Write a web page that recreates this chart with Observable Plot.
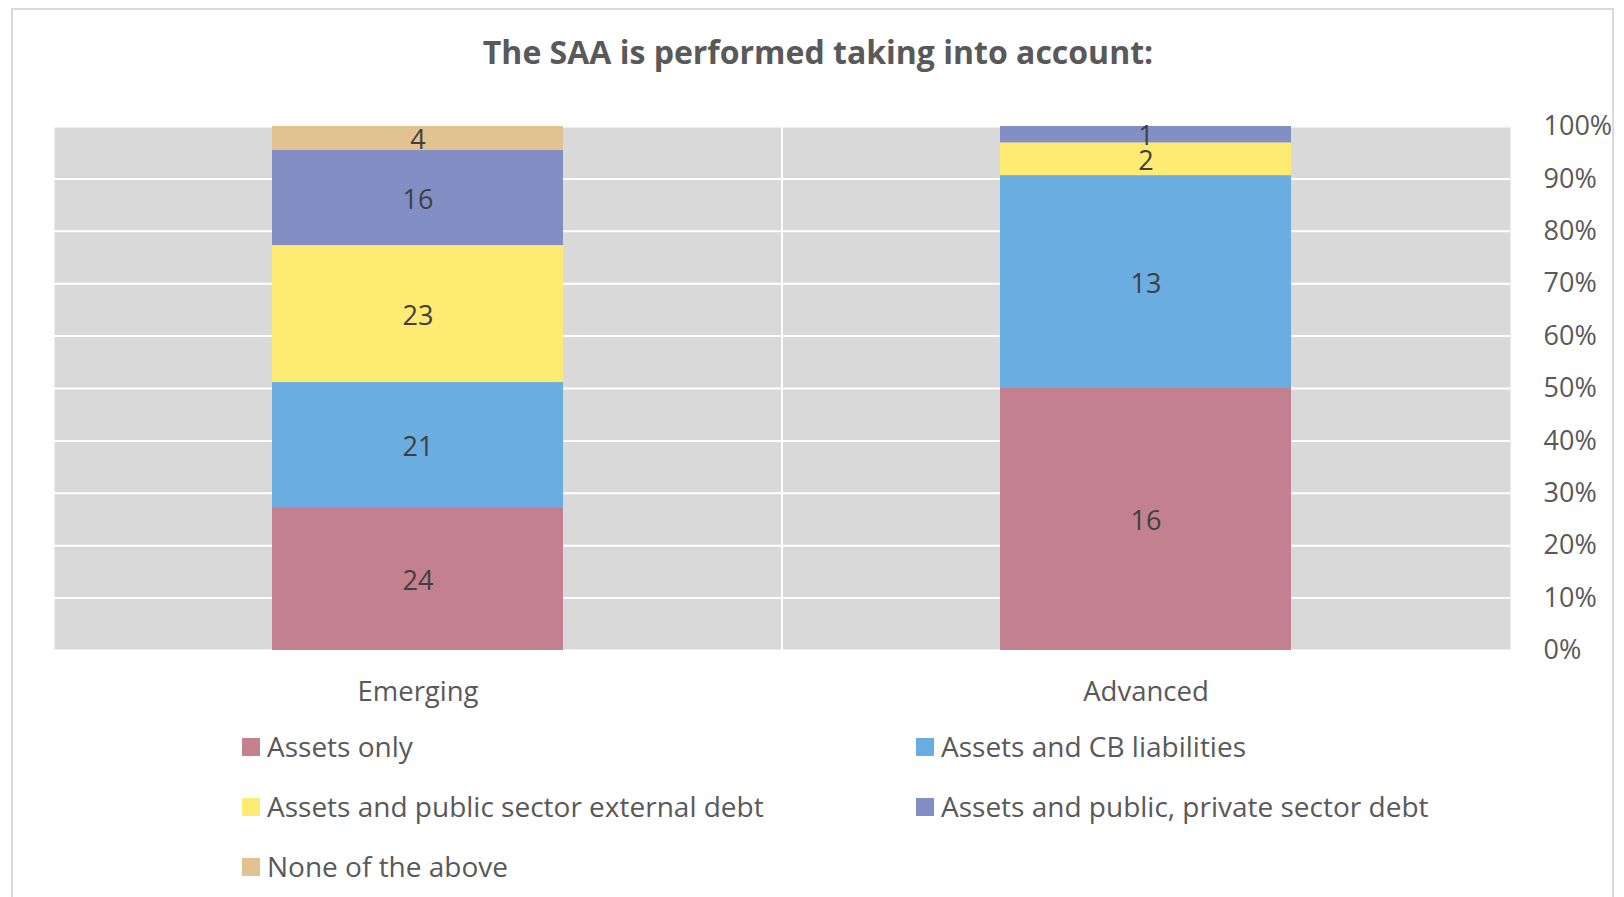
<!DOCTYPE html>
<html>
<head>
<meta charset="utf-8">
<script src="https://cdn.jsdelivr.net/npm/d3@7"></script>
<script src="https://cdn.jsdelivr.net/npm/@observablehq/plot@0.6"></script>
<style>
  body { margin: 0; background: #fff; font-family: "Open Sans", sans-serif; }
  #wrap { position: relative; width: 1624px; height: 897px; overflow: hidden; }
  #border { position: absolute; left: 11px; top: 8px; width: 1603px; height: 900px; border: 2px solid #d9d9d9; box-sizing: border-box; }
  #title { position: absolute; left: 0; width: 1636px; top: 30px; text-align: center; font-weight: 700; font-size: 32px; color: #595959; line-height: 44px; }
  #chart { position: absolute; left: 0; top: 0; }
  .leg { position: absolute; font-size: 28px; color: #595959; line-height: 38px; white-space: nowrap; }
  .sw { position: absolute; width: 18px; height: 18px; }
</style>
</head>
<body>
<div id="wrap">
  <div id="border"></div>
  <div id="title">The SAA is performed taking into account:</div>
  <div id="chart"></div>
  <div id="legend"></div>
</div>
<script>
const categories = ["Emerging", "Advanced"];
const series = ["Assets only", "Assets and CB liabilities", "Assets and public sector external debt", "Assets and public, private sector debt", "None of the above"];
const colors = ["#c3808f", "#6aade0", "#ffea72", "#828fc5", "#e2c291"];
const emergingValues = [24, 21, 23, 16, 4];
const advancedValues = [16, 13, 2, 1, 0];
const yTicks = [0, 0.1, 0.2, 0.3, 0.4, 0.5, 0.6, 0.7, 0.8, 0.9, 1.0];

const valuesByCat = {"Emerging": emergingValues, "Advanced": advancedValues};
const data = [];
for (const c of categories) series.forEach((s, i) => data.push({group: c, series: s, value: valuesByCat[c][i]}));

const W = 1624, H = 720, ML = 54, MR = 114, MT = 126, MB = 70;
const step = (W - ML - MR) / categories.length;

const chart = Plot.plot({
  width: W, height: H,
  marginLeft: ML, marginRight: MR, marginTop: MT, marginBottom: MB,
  style: {fontFamily: "'Open Sans', sans-serif", background: "transparent", overflow: "visible"},
  x: {domain: categories, paddingInner: 0.6, paddingOuter: 0.3, label: null, tickSize: 0},
  y: {domain: [0, 1], ticks: yTicks, tickFormat: d3.format(".0%"), label: null},
  color: {domain: series, range: colors},
  marks: [
    Plot.frame({fill: "#d9d9d9", stroke: null}),
    Plot.gridY(yTicks, {stroke: "#fff", strokeOpacity: 1, strokeWidth: 2}),
    Plot.ruleX([categories[0]], {x: d => d, dx: step / 2, stroke: "#fff", strokeWidth: 2}),
    Plot.barY(data, Plot.stackY({offset: "normalize", x: "group", y: "value", fill: "series", inset: 0})),
    Plot.text(data, Plot.stackY({offset: "normalize", x: "group", y: "value", z: "series",
      text: d => d.value > 0 ? String(d.value) : "", fill: "#404040", fontSize: 27, dy: 2})),
    Plot.axisX({tickSize: 0, tickPadding: 31, fontSize: 27.5, fill: "#595959", label: null}),
    Plot.axisY({anchor: "right", ticks: yTicks, tickFormat: d3.format(".0%"), tickSize: 0, tickPadding: 33,
      textAnchor: "start", fontSize: 27, fill: "#595959", label: null})
  ]
});
document.getElementById("chart").appendChild(chart);

const legend = document.getElementById("legend");
const cols = [242, 916];
series.forEach((s, i) => {
  const col = i % 2, row = Math.floor(i / 2);
  const cy = 747 + row * 60;
  const sw = document.createElement("div");
  sw.className = "sw";
  sw.style.left = cols[col] + "px";
  sw.style.top = (cy - 9) + "px";
  sw.style.background = colors[i];
  legend.appendChild(sw);
  const t = document.createElement("div");
  t.className = "leg";
  t.textContent = s;
  t.style.left = (cols[col] + 25) + "px";
  t.style.top = (cy - 20) + "px";
  legend.appendChild(t);
});
</script>
</body>
</html>
